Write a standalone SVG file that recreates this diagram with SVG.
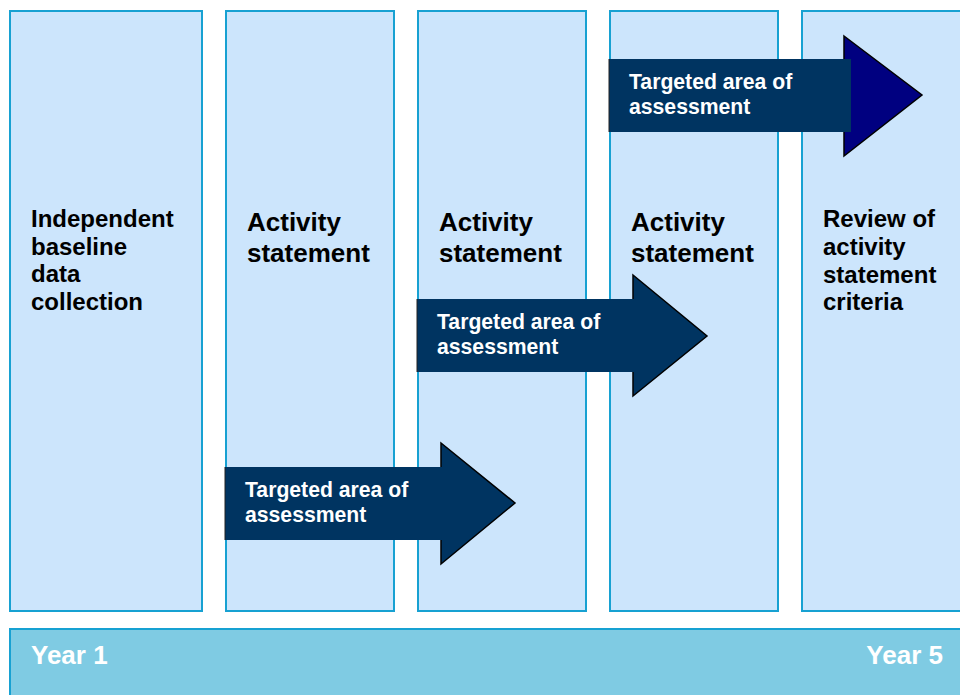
<svg xmlns="http://www.w3.org/2000/svg" width="960" height="695" viewBox="0 0 960 695">
  <style>
    .col { fill: #cce5fc; stroke: #17a1d2; stroke-width: 2; }
    .bar { fill: #7fcbe3; stroke: #17a1d2; stroke-width: 2; }
    .label { font-family: "Liberation Sans", Arial, sans-serif; font-weight: bold; fill: #000; }
    .big { font-size: 26px; }
    .mid { font-size: 24px; }
    .arrow-text { font-family: "Liberation Sans", Arial, sans-serif; font-weight: bold; font-size: 21.2px; fill: #fff; }
    .year { font-family: "Liberation Sans", Arial, sans-serif; font-weight: bold; font-size: 26px; fill: #fff; }
    .body { fill: #003461; }
    .head-line { fill: none; stroke: #000; stroke-width: 1.5; stroke-linejoin: miter; }
  </style>

  <!-- stage columns -->
  <g id="col-baseline">
    <rect class="col" x="10" y="11" width="192" height="600"/>
    <text class="label mid" x="31" y="227">Independent</text>
    <text class="label mid" x="31" y="255">baseline</text>
    <text class="label mid" x="31" y="282">data</text>
    <text class="label mid" x="31" y="310">collection</text>
  </g>
  <g id="col-activity-1">
    <rect class="col" x="226" y="11" width="168" height="600"/>
    <text class="label big" x="247" y="231">Activity</text>
    <text class="label big" x="247" y="262">statement</text>
  </g>
  <g id="col-activity-2">
    <rect class="col" x="418" y="11" width="168" height="600"/>
    <text class="label big" x="439" y="231">Activity</text>
    <text class="label big" x="439" y="262">statement</text>
  </g>
  <g id="col-activity-3">
    <rect class="col" x="610" y="11" width="168" height="600"/>
    <text class="label big" x="631" y="231">Activity</text>
    <text class="label big" x="631" y="262">statement</text>
  </g>
  <g id="col-review">
    <rect class="col" x="802" y="11" width="170" height="600"/>
    <text class="label mid" x="823" y="227">Review of</text>
    <text class="label mid" x="823" y="255">activity</text>
    <text class="label mid" x="823" y="283">statement</text>
    <text class="label mid" x="823" y="310">criteria</text>
  </g>

  <!-- timeline bar -->
  <g id="timeline">
    <rect class="bar" x="10" y="629" width="962" height="80"/>
    <text class="year" x="31" y="664">Year 1</text>
    <text class="year" x="943" y="664" text-anchor="end">Year 5</text>
  </g>

  <!-- assessment arrows -->
  <g id="connectors">
    <g id="arrow-1">
      <polygon class="body" points="225,467 441,467 441,443 515,503 441,564 441,540 225,540"/>
      <polyline class="head-line" points="441,467 441,443 515,503 441,564 441,540"/>
      <line x1="225" y1="467" x2="225" y2="540" stroke="#222" stroke-width="1"/>
      <text class="arrow-text" x="245" y="497">Targeted area of</text>
      <text class="arrow-text" x="245" y="522">assessment</text>
    </g>
    <g id="arrow-2">
      <polygon class="body" points="417,299 633,299 633,275 707,336 633,396 633,372 417,372"/>
      <polyline class="head-line" points="633,299 633,275 707,336 633,396 633,372"/>
      <line x1="417" y1="299" x2="417" y2="372" stroke="#222" stroke-width="1"/>
      <text class="arrow-text" x="437" y="329">Targeted area of</text>
      <text class="arrow-text" x="437" y="354">assessment</text>
    </g>
    <g id="arrow-3">
      <polygon points="844,36 922,95 844,156" fill="#000080" stroke="#000" stroke-width="1.5"/>
      <rect class="body" x="609" y="59" width="242" height="73"/>
      <line x1="609" y1="59" x2="609" y2="132" stroke="#222" stroke-width="1"/>
      <text class="arrow-text" x="629" y="89">Targeted area of</text>
      <text class="arrow-text" x="629" y="114">assessment</text>
    </g>
  </g>
</svg>
